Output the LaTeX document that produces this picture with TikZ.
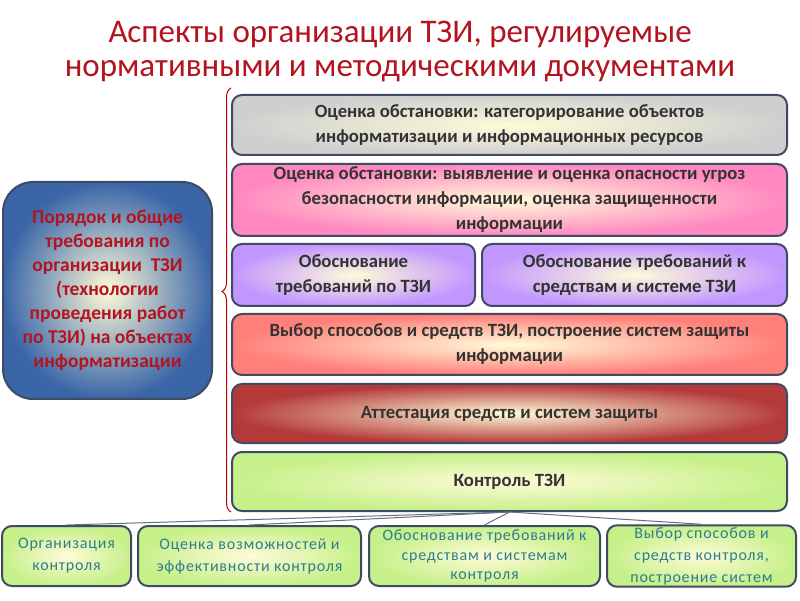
\documentclass[tikz,border=0pt]{standalone}
\usepackage{fontspec}
\setmainfont{Carlito}
\usepackage{xcolor}
\usetikzlibrary{shapes,positioning,calc,decorations.pathreplacing}

\definecolor{titlered}{HTML}{B3141F}
\definecolor{boxline}{HTML}{3F4B63}
\definecolor{boxtext}{HTML}{333333}
\definecolor{lowtext}{HTML}{2E7D90}
\definecolor{glowin}{HTML}{FFFBD8}
\definecolor{leftblue}{HTML}{3A66A8}
\definecolor{catgray}{HTML}{CFCFCF}
\definecolor{threatpink}{HTML}{FF88C0}
\definecolor{reqviolet}{HTML}{C296FF}
\definecolor{choicered}{HTML}{FF7F7A}
\definecolor{attestred}{HTML}{B43A3A}
\definecolor{ctrlgreen}{HTML}{C6F08A}

\begin{document}
\begin{tikzpicture}[
    x=1pt, y=1pt,
    box/.style={draw=boxline, line width=2pt, rounded corners=10pt,
        align=center, text=boxtext, inner sep=2pt,
        font=\fontsize{18.7}{25}\selectfont\bfseries},
    glow/.style={inner color=glowin, outer color=#1},
    lowbox/.style={box, minimum height=60pt,
        font=\fontsize{16}{22}\selectfont\addfontfeature{LetterSpace=5}, text=lowtext, glow=ctrlgreen},
    link/.style={draw=boxline!80, line width=1pt}
]
\useasboundingbox (0,0) rectangle (800,600);

% Title
\node[text=titlered, align=center, font=\fontsize{33}{34}\selectfont] (title) at (400,548)
    {Аспекты организации ТЗИ, регулируемые\\нормативными и методическими документами};

% Left block
\node[box, rounded corners=30pt, minimum width=209pt, minimum height=217pt,
      glow=leftblue, text=titlered, font=\fontsize{19.5}{24}\selectfont\bfseries] (order) at (107.5,309.5)
    {Порядок и общие\\требования по\\организации~ ТЗИ\\(технологии\\проведения работ\\по ТЗИ) на объектах\\информатизации};

% Stages on the right
\node[box, minimum width=555pt, minimum height=60pt, glow=catgray] (cat) at (509.5,475)
    {Оценка обстановки: категорирование объектов\\информатизации и информационных ресурсов};
\node[box, minimum width=555pt, minimum height=72pt, glow=threatpink] (threat) at (509.5,400)
    {Оценка обстановки: выявление и оценка опасности угроз\\безопасности информации, оценка защищенности\\информации};
\node[box, minimum width=243pt, minimum height=62pt, glow=reqviolet] (reqA) at (353.5,325)
    {Обоснование\\требований по ТЗИ};
\node[box, minimum width=305pt, minimum height=62pt, glow=reqviolet] (reqB) at (634.5,325)
    {Обоснование требований к\\средствам и системе ТЗИ};
\node[box, minimum width=555pt, minimum height=61pt, glow=choicered] (choice) at (509.5,255.5)
    {Выбор способов и средств ТЗИ, построение систем защиты\\информации};
\node[box, minimum width=555pt, minimum height=59pt, glow=attestred] (attest) at (509.5,186.5)
    {Аттестация средств и систем защиты};
\node[box, minimum width=555pt, minimum height=59pt, glow=ctrlgreen] (ctrl) at (509.5,118.5)
    {Контроль ТЗИ};

% Brace
\draw[red!75!black, line width=1pt, decorate,
      decoration={brace, amplitude=9pt, aspect=0.52}]
    (231,88) -- (231,512);

% Control tasks
\node[lowbox, minimum width=129pt] (org) at (66.5,44) {Организация\\контроля};
\node[lowbox, minimum width=223pt] (eval) at (249.5,44) {Оценка возможностей и\\эффективности контроля};
\node[lowbox, minimum width=231pt, font=\fontsize{16}{19.5}\selectfont\addfontfeature{LetterSpace=5}] (just) at (484.5,44)
    {Обоснование требований к\\средствам и системам\\контроля};
\node[lowbox, minimum width=189pt] (sel) at (701.5,44) {Выбор способов и\\средств контроля,\\построение систем};

\foreach \t in {org,eval,just,sel} {
    \draw[link] (ctrl.south) -- (\t.north);
}

\end{tikzpicture}
\end{document}
